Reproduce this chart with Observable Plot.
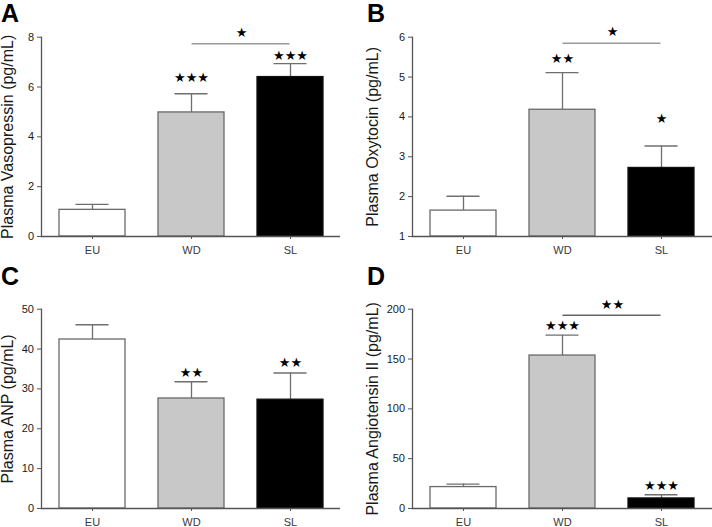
<!DOCTYPE html>
<html><head><meta charset="utf-8">
<script src="https://cdn.jsdelivr.net/npm/d3@7"></script>
<script src="https://cdn.jsdelivr.net/npm/@observablehq/plot@0.6"></script>
<style>
html,body{margin:0;padding:0;background:#fff;}
body{width:712px;height:527px;overflow:hidden;position:relative;font-family:"Liberation Sans",Arial,sans-serif;}
.panel{position:absolute;}
.letter{position:absolute;font-weight:bold;font-size:25px;line-height:1.1;color:#000;}
</style></head><body>
<script>
// ---- data ----
const groups = ["EU", "WD", "SL"];

const vasopressinMean = [1.07, 4.98, 6.40];
const vasopressinSem  = [0.22, 0.75, 0.54];
const vasopressinStars = ["", "***", "***"];
const vasopressinStarAt = [null, 6.35, 7.27];
const vasopressinTicks = [0, 2, 4, 6, 8];

const oxytocinMean = [1.65, 4.18, 2.72];
const oxytocinSem  = [0.36, 0.93, 0.55];
const oxytocinStars = ["", "**", "*"];
const oxytocinStarAt = [null, 5.45, 3.96];
const oxytocinTicks = [1, 2, 3, 4, 5, 6];

const anpMean = [42.4, 27.6, 27.3];
const anpSem  = [3.7, 4.2, 6.7];
const anpStars = ["", "**", "**"];
const anpStarAt = [null, 34.1, 36.6];
const anpTicks = [0, 10, 20, 30, 40, 50];

const angMean = [21.5, 153.5, 10.1];
const angSem  = [3.0, 20.4, 3.7];
const angStars = ["", "***", "***"];
const angStarAt = [null, 183.3, 23.1];
const angTicks = [0, 50, 100, 150, 200];

// comparison brackets WD vs SL: [line level, label level, label]
const vasopressinBracket = [7.74, 8.19, "*"];
const oxytocinBracket = [5.85, 6.13, "*"];
const angBracket = [194, 204, "**"];

// ---- styles ----
const barFills = ["#ffffff", "#c8c8c8", "#000000"];
const barStrokes = ["#6a6a6a", "#6a6a6a", "#111111"];
const starGlyph = s => s.replace(/\*/g, "\u2605");

function panel({means, sems, stars, starAt, ticks, domain, label, labelDx, bracket, width, marginRight, bracketColor}) {
  const rows = groups.map((g, i) => ({
    group: g, mean: means[i], hi: means[i] + sems[i],
    star: starGlyph(stars[i]), starAt: starAt[i],
    fill: barFills[i], stroke: barStrokes[i]
  }));
  const base = domain[0];
  const marks = [
    Plot.ruleX(rows, {x: "group", y1: "mean", y2: "hi", stroke: "#6f6f6f", strokeWidth: 1.3}),
    Plot.tickY(rows, {x: "group", y: "hi", stroke: "#6f6f6f", strokeWidth: 1.3, insetLeft: 16.5, insetRight: 16.5}),
    Plot.barY(rows, {x: "group", y1: base, y2: "mean", fill: "fill", stroke: "stroke", strokeWidth: 1.3}),
    Plot.ruleY([base], {stroke: "#555", strokeWidth: 1.3}),
    Plot.frame({anchor: "left", stroke: "#555", strokeWidth: 1.3}),
    Plot.axisY({ticks, tickFormat: d => String(d), tickSize: 4, tickPadding: 3.5, label: null, stroke: "#555", fill: "#1a1a1a", fontSize: 11}),
    Plot.axisX({tickSize: 3, tickPadding: 7, label: null, stroke: "#555", fill: "#3a3a3a", fontSize: 11}),
    Plot.text([label], {frameAnchor: "left", rotate: -90, text: d => d, fontSize: 16, dx: labelDx, fill: "#1a1a1a", textAnchor: "middle", lineAnchor: "middle"}),
    Plot.text(rows.filter(d => d.star), {x: "group", y: "starAt", text: "star", fontSize: 13, fontFamily: "DejaVu Sans", fill: "#000", letterSpacing: "0.5px"})
  ];
  if (bracket) {
    marks.push(
      Plot.ruleY([bracket[0]], {x1: () => "WD", x2: () => "SL", insetLeft: 33.5, insetRight: 33.5, stroke: bracketColor, strokeWidth: 1.4}),
      Plot.text([bracket[2]], {x: () => "WD", y: () => bracket[1], dx: 50, text: d => starGlyph(d), fontSize: 13, fontFamily: "DejaVu Sans", fill: "#000", letterSpacing: "0.5px"})
    );
  }
  return Plot.plot({
    width, height: 262,
    marginLeft: 41, marginRight, marginTop: 36.7, marginBottom: 26,
    style: {fontFamily: "'Liberation Sans', Arial, sans-serif", fontSize: "11px", background: "transparent", overflow: "visible", color: "#1a1a1a"},
    x: {domain: groups, paddingInner: 0.3367, paddingOuter: 0.171, axis: null},
    y: {domain, axis: null},
    color: {type: "identity"},
    marks
  });
}

function place(svg, left, top) {
  const d = document.createElement("div");
  d.className = "panel";
  d.style.left = left + "px";
  d.style.top = top + "px";
  d.appendChild(svg);
  document.body.appendChild(d);
}
function letter(t, left, top) {
  const d = document.createElement("div");
  d.className = "letter";
  d.textContent = t;
  d.style.left = left + "px";
  d.style.top = top + "px";
  document.body.appendChild(d);
}

place(panel({means: vasopressinMean, sems: vasopressinSem, stars: vasopressinStars, starAt: vasopressinStarAt,
  ticks: vasopressinTicks, domain: [0, 8], label: "Plasma Vasopressin (pg/mL)", labelDx: -33.4,
  bracket: vasopressinBracket, bracketColor: "#9a9a9a", width: 345, marginRight: 5}), 0, 0);
place(panel({means: oxytocinMean, sems: oxytocinSem, stars: oxytocinStars, starAt: oxytocinStarAt,
  ticks: oxytocinTicks, domain: [1, 6], label: "Plasma Oxytocin (pg/mL)", labelDx: -39.3,
  bracket: oxytocinBracket, bracketColor: "#9a9a9a", width: 341, marginRight: 0}), 370.7, 0);
place(panel({means: anpMean, sems: anpSem, stars: anpStars, starAt: anpStarAt,
  ticks: anpTicks, domain: [0, 50], label: "Plasma ANP (pg/mL)", labelDx: -33.4,
  bracket: null, width: 345, marginRight: 5}), 0, 272);
place(panel({means: angMean, sems: angSem, stars: angStars, starAt: angStarAt,
  ticks: angTicks, domain: [0, 200], label: "Plasma Angiotensin II (pg/mL)", labelDx: -39.3,
  bracket: angBracket, bracketColor: "#666666", width: 341, marginRight: 0}), 370.7, 272);

letter("A", 1, 0);
letter("B", 367, 0);
letter("C", 1, 263);
letter("D", 367, 263);
</script>
</body></html>
